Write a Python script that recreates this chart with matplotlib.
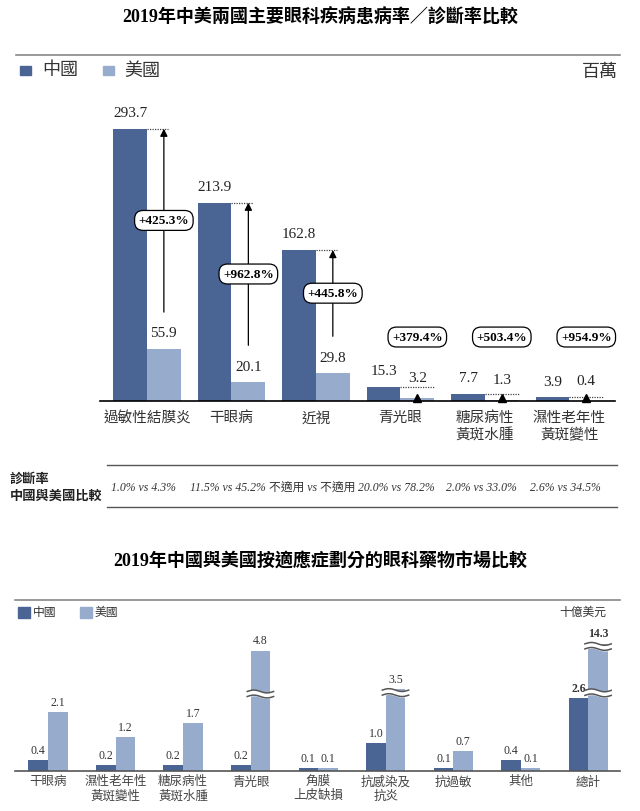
import numpy as np
import matplotlib
matplotlib.use('Agg')
import matplotlib.pyplot as plt
from matplotlib.lines import Line2D
from matplotlib.transforms import ScaledTranslation

plt.rcParams['font.family'] = ['Liberation Serif', 'Noto Sans CJK TC']

# 數據：2019年中美主要眼科疾病患病人數（百萬）
diseases = ['過敏性結膜炎', '干眼病', '近視', '青光眼', '糖尿病性\n黃斑水腫', '濕性老年性\n黃斑變性']
china_patients = [293.7, 213.9, 162.8, 15.3, 7.7, 3.9]
us_patients = [55.9, 20.1, 29.8, 3.2, 1.3, 0.4]
diff_labels = ['+425.3%', '+962.8%', '+445.8%', '+379.4%', '+503.4%', '+954.9%']
diag_rates = ['1.0% vs 4.3%', '11.5% vs 45.2%', '不適用 vs 不適用',
              '20.0% vs 78.2%', '2.0% vs 33.0%', '2.6% vs 34.5%']

# 數據：2019年眼科藥物市場（十億美元）
drug_cats = ['干眼病', '濕性老年性\n黃斑變性', '糖尿病性\n黃斑水腫', '青光眼', '角膜\n上皮缺損',
             '抗感染及\n抗炎', '抗過敏', '其他', '總計']
china_market = [0.4, 0.2, 0.2, 0.2, 0.1, 1.0, 0.1, 0.4, 2.6]
us_market = [2.1, 1.2, 1.7, 4.8, 0.1, 3.5, 0.7, 0.1, 14.3]
# 截斷顯示的柱子（畫出的高度）
truncated = {3: 4.3, 5: 2.93, 8: 4.55}

C_CN = '#4a6494'
C_US = '#97abcd'
W, H = 640, 812


def fx(x):
    return x / W


def fy(y):
    return 1 - y / H


fig = plt.figure(figsize=(6.4, 8.12), dpi=100)

# ---------------- 上圖 ----------------
fig.text(0.5, fy(18), '2019年中美兩國主要眼科疾病患病率／診斷率比較', ha='center', va='center',
         fontsize=13, fontweight='bold')
fig.add_artist(Line2D([fx(16), fx(620)], [fy(56), fy(56)], color='#888888', lw=1.2))
fig.patches.append(plt.Rectangle((fx(20), fy(76)), fx(11), 9 / H, color=C_CN, transform=fig.transFigure))
fig.text(fx(42), fy(71), '中國', va='center', fontsize=13, color='#333333')
fig.patches.append(plt.Rectangle((fx(103), fy(76)), fx(11), 9 / H, color=C_US, transform=fig.transFigure))
fig.text(fx(124), fy(71), '美國', va='center', fontsize=13, color='#333333')
fig.text(fx(618), fy(72), '百萬', ha='right', va='center', fontsize=13, style='italic', color='#333333')

ax = fig.add_axes([fx(100), fy(402), fx(515), (402 - 110) / H])
x = np.arange(len(diseases))
bw = 0.4
ax.bar(x - bw / 2, china_patients, bw, color=C_CN)
ax.bar(x + bw / 2, us_patients, bw, color=C_US)
ax.set_xlim(-0.556, 5.54)
ax.set_ylim(0, 315)
for s in ['top', 'right', 'left']:
    ax.spines[s].set_visible(False)
ax.spines['bottom'].set_linewidth(1.2)
ax.set_yticks([])
ax.set_xticks(x)
ax.set_xticklabels(diseases, fontsize=10.5, color='#333333', linespacing=1.3)
ax.tick_params(axis='x', length=0, pad=7)

oval = dict(boxstyle='round,pad=0.3,rounding_size=0.65', fc='white', ec='black', lw=0.9)
up = ax.transData + ScaledTranslation(0, 2.5 / 72, fig.dpi_scale_trans)

for i in range(len(diseases)):
    cn, us = china_patients[i], us_patients[i]
    ax.annotate(f'{cn:.1f}', (i - bw / 2, cn), xytext=(0, 7), textcoords='offset points',
                ha='center', va='bottom', fontsize=11, color='#222222')
    if i < 3:
        ax.annotate(f'{us:.1f}', (i + bw / 2, us), xytext=(0, 7), textcoords='offset points',
                    ha='center', va='bottom', fontsize=11, color='#222222')
        start = us + 40
        ax.plot([i, i + 0.25], [cn, cn], ls=(0, (1, 1)), color='#444444', lw=0.9)
        ax.annotate('', xy=(i + bw / 2, cn), xytext=(i + bw / 2, start),
                    arrowprops=dict(arrowstyle='-|>', color='black', lw=0.9,
                                    mutation_scale=11, shrinkA=0, shrinkB=0))
        ax.text(i + bw / 2, (start + cn) / 2, diff_labels[i], ha='center', va='center',
                fontsize=9.5, fontweight='bold', bbox=oval)
    else:
        ax.annotate(f'{us:.1f}', (i + bw / 2, us), xytext=(0, 10), textcoords='offset points',
                    ha='center', va='bottom', fontsize=11, color='#222222')
        ax.plot([i, i + bw], [cn, cn], ls=(0, (1, 1)), color='#444444', lw=0.9)
        ax.plot([i + bw / 2], [0], marker='^', color='black', ms=6, clip_on=False, transform=up)
        ax.text(i + bw / 2, 69, diff_labels[i], ha='center', va='center',
                fontsize=9.5, fontweight='bold', bbox=oval)

# 診斷率一行
fig.add_artist(Line2D([fx(107), fx(617)], [fy(466), fy(466)], color='#555555', lw=1.0))
fig.add_artist(Line2D([fx(107), fx(617)], [fy(508), fy(508)], color='#555555', lw=1.0))
fig.text(fx(10), fy(487), '診斷率\n中國與美國比較', va='center', ha='left', fontsize=9.5,
         fontweight='bold', family=['Noto Sans CJK TC'], linespacing=1.3, color='#222222')
for i, t in enumerate(diag_rates):
    xp = ax.transData.transform((i, 0))[0]
    fig.text(xp / fig.dpi / 6.4 - 4 / W, fy(488), t, ha='center', va='center', fontsize=8.5,
             style='italic', color='#333333')

# ---------------- 下圖 ----------------
fig.text(0.5, fy(562), '2019年中國與美國按適應症劃分的眼科藥物市場比較', ha='center', va='center',
         fontsize=13, fontweight='bold')
fig.add_artist(Line2D([fx(15), fx(620)], [fy(601), fy(601)], color='#888888', lw=1.2))
fig.patches.append(plt.Rectangle((fx(18), fy(619)), fx(12), 11 / H, color=C_CN, transform=fig.transFigure))
fig.text(fx(33), fy(613), '中國', va='center', fontsize=8.5, color='#333333')
fig.patches.append(plt.Rectangle((fx(80), fy(619)), fx(12), 11 / H, color=C_US, transform=fig.transFigure))
fig.text(fx(95), fy(613), '美國', va='center', fontsize=8.5, color='#333333')
fig.text(fx(606), fy(613), '十億美元', ha='right', va='center', fontsize=8.5, style='italic', color='#333333')

ax2 = fig.add_axes([fx(15), fy(772), fx(605), (772 - 625) / H])
x2 = np.arange(len(drug_cats))
bw2 = 0.29
us_drawn = [truncated.get(i, v) for i, v in enumerate(us_market)]
ax2.bar(x2 - bw2 / 2, china_market, bw2, color=C_CN)
ax2.bar(x2 + bw2 / 2, us_drawn, bw2, color=C_US)
ax2.set_xlim(-0.489, 8.47)
ax2.set_ylim(0, 5.25)
for s in ['top', 'right', 'left']:
    ax2.spines[s].set_visible(False)
ax2.spines['bottom'].set_color('#555555')
ax2.spines['bottom'].set_linewidth(1.2)
ax2.set_yticks([])
ax2.set_xticks(x2)
ax2.set_xticklabels(drug_cats, fontsize=9, color='#444444', linespacing=1.2)
ax2.tick_params(axis='x', length=0, pad=3)


def wave(axis, xc, y0):
    xs = np.linspace(xc - bw2 / 2 - 0.05, xc + bw2 / 2 + 0.05, 60)
    amp = 0.05
    ph = np.sin((xs - xs[0]) / (xs[-1] - xs[0]) * 2 * np.pi)
    lo = y0 - 0.09 + amp * ph
    hi = y0 + 0.09 + amp * ph
    axis.fill_between(xs, lo, hi, color='white', zorder=3)
    axis.plot(xs, lo, color='#555555', lw=1.1, zorder=4)
    axis.plot(xs, hi, color='#555555', lw=1.1, zorder=4)


for i in range(len(drug_cats)):
    bold = 'bold' if i == len(drug_cats) - 1 else 'normal'
    ax2.annotate(f'{china_market[i]:.1f}', (i - bw2 / 2, china_market[i]), xytext=(0, 3),
                 textcoords='offset points', ha='center', va='bottom', fontsize=8.5,
                 fontweight=bold, color='#333333')
    ax2.annotate(f'{us_market[i]:.1f}', (i + bw2 / 2, us_drawn[i]), xytext=(0, 3),
                 textcoords='offset points', ha='center', va='bottom', fontsize=8.5,
                 fontweight=bold, color='#333333')

wave(ax2, 3 + bw2 / 2, 2.75)
wave(ax2, 5 + bw2 / 2, 2.8)
wave(ax2, 8 + bw2 / 2, 2.79)
wave(ax2, 8 + bw2 / 2, 4.45)

fig.savefig('out.png', dpi=100)
